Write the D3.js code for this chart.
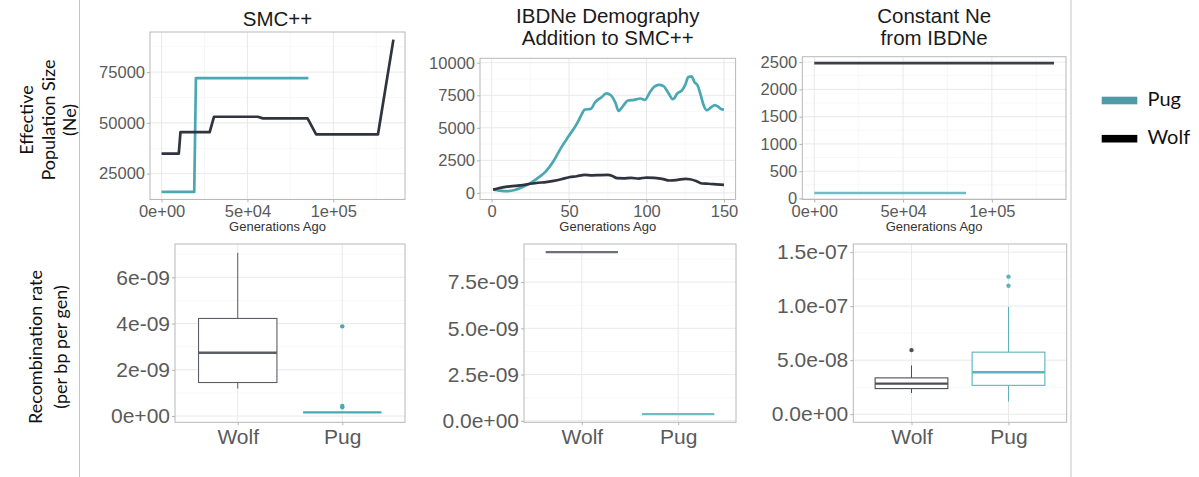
<!DOCTYPE html>
<html>
<head>
<meta charset="utf-8">
<script src="https://cdn.jsdelivr.net/npm/d3@7"></script>
<style>
  body { margin: 0; background: #fff; }
  svg { display: block; }
  text { font-family: "Liberation Sans", Arial, sans-serif; }
</style>
</head>
<body>
<svg id="chart"></svg>
<script>
// ---- data ----
const groups = ["Wolf", "Pug"];

// SMC++ Ne curves: [generations ago, Ne]
const smcWolf = [[0, 34800], [10000, 34800], [11000, 45400], [28000, 45400], [30500, 53000],
  [56000, 53000], [59000, 52200], [85000, 52200], [90000, 44300], [126000, 44300], [135000, 91000]];
const smcPug = [[0, 16000], [19000, 16000], [20000, 72000], [85500, 72000]];

// IBDNe curves: [generations ago, Ne]
const ibdPug = [[1, 250], [5, 180], [10, 130], [15, 220], [20, 450], [25, 750], [30, 1150], [35, 1650],
  [40, 2450], [45, 3500], [50, 4400], [55, 5300], [58, 6000], [60, 6400], [64, 6450], [67, 7000],
  [71, 7350], [74, 7650], [77, 7500], [80, 6900], [82, 6300], [85, 6700], [88, 7100], [92, 7150],
  [96, 7250], [99, 7150], [102, 7700], [105, 8150], [108, 8300], [111, 8200], [114, 7700], [117, 7200],
  [120, 7650], [123, 7900], [125, 8300], [127, 8900], [129, 8950], [131, 8500], [133, 8250], [135, 7500],
  [137, 6700], [139, 6350], [142, 6600], [144, 6750], [146, 6650], [148, 6450], [150, 6400]];
const ibdWolf = [[1, 250], [5, 380], [10, 480], [15, 540], [20, 600], [25, 700], [30, 780], [35, 820],
  [40, 920], [45, 1050], [50, 1200], [55, 1280], [60, 1380], [65, 1350], [70, 1370], [75, 1380],
  [78, 1300], [81, 1130], [85, 1120], [90, 1150], [95, 1100], [100, 1180], [105, 1150], [110, 1080],
  [115, 950], [120, 1000], [125, 1080], [128, 1050], [132, 920], [136, 720], [140, 700], [145, 660], [150, 620]];

// constant Ne from IBDNe
const constWolf = [[0, 2480], [135000, 2480]];
const constPug = [[0, 100], [85500, 100]];

// recombination rate boxplots: [lower whisker, q1, median, q3, upper whisker]
const recSmcWolf = [1.19e-9, 1.45e-9, 2.74e-9, 4.22e-9, 7.06e-9];
const recSmcPug = [0.16e-9, 0.16e-9, 0.16e-9, 0.16e-9, 0.16e-9];
const recSmcOut = { Wolf: [], Pug: [3.88e-9, 0.44e-9, 0.38e-9] };

const recIbdWolf = [9.12e-9, 9.12e-9, 9.12e-9, 9.12e-9, 9.12e-9];
const recIbdPug = [0.36e-9, 0.36e-9, 0.36e-9, 0.36e-9, 0.36e-9];
const recIbdOut = { Wolf: [], Pug: [] };

const recConstWolf = [1.96e-8, 2.37e-8, 2.83e-8, 3.36e-8, 4.51e-8];
const recConstPug = [1.17e-8, 2.67e-8, 3.88e-8, 5.74e-8, 9.94e-8];
const recConstOut = { Wolf: [5.93e-8], Pug: [1.189e-7, 1.273e-7] };

// ---- base settings ----
const width = 1199;
const height = 477;
const pugCol = "#4aa8b3";
const wolfCol = "#2f3440";

const svg = d3.select("#chart").attr("width", width).attr("height", height);

// R style scientific labels, e.g. 5e+04, 2.5e-09
function sci(v, digits) {
  const [m, e] = v.toExponential(digits).split("e");
  const n = Math.abs(+e);
  return m + "e" + (e[0] === "-" ? "-" : "+") + (n < 10 ? "0" + n : n);
}

// minor breaks halfway between the major ones (ggplot style)
function minorBreaks(ticks, domain) {
  const step = ticks[1] - ticks[0];
  const out = [];
  for (let v = ticks[0] - step / 2; v <= domain[1]; v += step) {
    if (v >= domain[0]) out.push(v);
  }
  return out;
}

function gridLines(g, x, y, xMinor, yMinor, xMajor, yMajor) {
  const [x0, x1] = x.range();
  const [y1, y0] = y.range();
  g.append("g").selectAll("line").data(xMinor).join("line")
    .attr("x1", d => x(d)).attr("x2", d => x(d)).attr("y1", y0).attr("y2", y1)
    .attr("stroke", "#f2f2f2").attr("stroke-width", 0.6);
  g.append("g").selectAll("line").data(yMinor).join("line")
    .attr("y1", d => y(d)).attr("y2", d => y(d)).attr("x1", x0).attr("x2", x1)
    .attr("stroke", "#f2f2f2").attr("stroke-width", 0.6);
  g.append("g").selectAll("line").data(xMajor).join("line")
    .attr("x1", d => x(d)).attr("x2", d => x(d)).attr("y1", y0).attr("y2", y1)
    .attr("stroke", "#e6e6e6").attr("stroke-width", 0.9);
  g.append("g").selectAll("line").data(yMajor).join("line")
    .attr("y1", d => y(d)).attr("y2", d => y(d)).attr("x1", x0).attr("x2", x1)
    .attr("stroke", "#e6e6e6").attr("stroke-width", 0.9);
}

function styleAxis(a, size) {
  a.select(".domain").remove();
  a.selectAll(".tick line").attr("stroke", "#b3b3b3");
  a.selectAll(".tick text").attr("fill", "#5a5a5a").style("font-size", size + "px")
    .style("font-family", '"Liberation Sans", Arial, sans-serif');
}

function border(g, left, right, top, bottom) {
  g.append("rect").attr("x", left).attr("y", top).attr("width", right - left).attr("height", bottom - top)
    .attr("fill", "none").attr("stroke", "#b8b8b8").attr("stroke-width", 1);
}

/**
 * line panel of the top row
 */
function linePanel(o) {
  const g = svg.append("g");
  const x = d3.scaleLinear().domain(o.xDomain).range([o.left, o.right]);
  const y = d3.scaleLinear().domain(o.yDomain).range([o.bottom, o.top]);
  gridLines(g, x, y, minorBreaks(o.xTicks, o.xDomain), minorBreaks(o.yTicks, o.yDomain), o.xTicks, o.yTicks);

  const line = d3.line().x(d => x(d[0])).y(d => y(d[1])).curve(o.curve || d3.curveLinear);
  o.series.forEach(s => {
    g.append("path").datum(s.data).attr("d", line)
      .attr("fill", "none").attr("stroke", s.color).attr("stroke-width", 2.7)
      .attr("stroke-linejoin", "round");
  });
  border(g, o.left, o.right, o.top, o.bottom);

  const ax = g.append("g").attr("transform", `translate(0,${o.bottom})`)
    .call(d3.axisBottom(x).tickValues(o.xTicks).tickFormat(o.xFmt).tickSize(3).tickPadding(2.5));
  const ay = g.append("g").attr("transform", `translate(${o.left},0)`)
    .call(d3.axisLeft(y).tickValues(o.yTicks).tickFormat(o.yFmt).tickSize(3).tickPadding(2));
  styleAxis(ax, 16.5);
  styleAxis(ay, 16.5);

  g.append("text").attr("x", (o.left + o.right) / 2).attr("y", 230.5)
    .attr("text-anchor", "middle").style("font-size", "13px").attr("fill", "#333")
    .text("Generations Ago");
  o.title.forEach((t, i) => {
    g.append("text").attr("x", (o.left + o.right) / 2).attr("y", o.titleY + i * 22)
      .attr("text-anchor", "middle").style("font-size", "20.5px").attr("fill", "#1a1a1a").text(t);
  });
}

/**
 * boxplot panel of the bottom row
 */
function boxPanel(o) {
  const g = svg.append("g");
  const unit = (o.right - o.left) / 2.2;   // ggplot discrete expansion of 0.6 each side
  const x = d3.scalePoint().domain(groups).range([o.left + 0.6 * unit, o.right - 0.6 * unit]);
  const y = d3.scaleLinear().domain(o.yDomain).range([o.bottom, o.top]);
  const frame = d3.scaleLinear().range([o.left, o.right]);
  gridLines(g, frame, y, [], minorBreaks(o.yTicks, o.yDomain), [], o.yTicks);
  g.append("g").selectAll("line").data(groups).join("line")
    .attr("x1", d => x(d)).attr("x2", d => x(d)).attr("y1", o.top).attr("y2", o.bottom)
    .attr("stroke", "#e6e6e6").attr("stroke-width", 0.9);

  const bw = 0.75 * unit;
  o.boxes.forEach(b => {
    const cx = x(b.name);
    const [lo, q1, med, q3, hi] = b.stats;
    g.append("line").attr("x1", cx).attr("x2", cx).attr("y1", y(hi)).attr("y2", y(q3))
      .attr("stroke", b.color).attr("stroke-width", 1);
    g.append("line").attr("x1", cx).attr("x2", cx).attr("y1", y(q1)).attr("y2", y(lo))
      .attr("stroke", b.color).attr("stroke-width", 1);
    g.append("rect").attr("x", cx - bw / 2).attr("y", y(q3)).attr("width", bw)
      .attr("height", Math.max(0, y(q1) - y(q3)))
      .attr("fill", "#fff").attr("stroke", b.color).attr("stroke-width", 1.1);
    g.append("line").attr("x1", cx - bw / 2).attr("x2", cx + bw / 2).attr("y1", y(med)).attr("y2", y(med))
      .attr("stroke", b.color).attr("stroke-width", 2.4);
    g.append("g").selectAll("circle").data(b.out).join("circle")
      .attr("cx", cx).attr("cy", d => y(d)).attr("r", 2.2).attr("fill", b.color);
  });

  border(g, o.left, o.right, o.top, o.bottom);
  const ax = g.append("g").attr("transform", `translate(0,${o.bottom})`)
    .call(d3.axisBottom(x).tickSize(3).tickPadding(4));
  const ay = g.append("g").attr("transform", `translate(${o.left},0)`)
    .call(d3.axisLeft(y).tickValues(o.yTicks).tickFormat(o.yFmt).tickSize(3).tickPadding(2));
  styleAxis(ax, 21);
  styleAxis(ay, 21);
}

const rowBottom = 199.5, boxTop = 244, boxBottom = 422.3;

linePanel({
  left: 150, right: 405, top: 32, bottom: rowBottom,
  xDomain: [-6750, 141750], yDomain: [12250, 94750],
  xTicks: [0, 50000, 100000], yTicks: [25000, 50000, 75000],
  xFmt: d => sci(d, 0), yFmt: d => d,
  series: [{ data: smcPug, color: pugCol }, { data: smcWolf, color: wolfCol }],
  title: ["SMC++"], titleY: 26
});

linePanel({
  left: 480, right: 735.6, top: 58.3, bottom: rowBottom,
  xDomain: [-7.5, 157.5], yDomain: [-508, 10340],
  xTicks: [0, 50, 100, 150], yTicks: [0, 2500, 5000, 7500, 10000],
  xFmt: d => d, yFmt: d => d,
  curve: d3.curveMonotoneX,
  series: [{ data: ibdPug, color: pugCol }, { data: ibdWolf, color: wolfCol }],
  title: ["IBDNe Demography", "Addition to SMC++"], titleY: 23
});

linePanel({
  left: 802.3, right: 1066, top: 56.7, bottom: rowBottom,
  xDomain: [-6750, 141750], yDomain: [-19, 2599],
  xTicks: [0, 50000, 100000], yTicks: [0, 500, 1000, 1500, 2000, 2500],
  xFmt: d => sci(d, 0), yFmt: d => d,
  series: [{ data: constPug, color: "#6fbcc4" }, { data: constWolf, color: "#3a3f4a" }],
  title: ["Constant Ne", "from IBDNe"], titleY: 23
});

boxPanel({
  left: 175, right: 405, top: boxTop, bottom: boxBottom,
  yDomain: [-0.27e-9, 7.44e-9], yTicks: [0, 2e-9, 4e-9, 6e-9], yFmt: d => sci(d, 0),
  boxes: [
    { name: "Wolf", stats: recSmcWolf, out: recSmcOut.Wolf, color: "#5b5e66" },
    { name: "Pug", stats: recSmcPug, out: recSmcOut.Pug, color: "#4aa8b3" }
  ]
});

boxPanel({
  left: 524, right: 736, top: boxTop, bottom: boxBottom,
  yDomain: [-0.08e-9, 9.56e-9], yTicks: [0, 2.5e-9, 5e-9, 7.5e-9], yFmt: d => sci(d, 1),
  boxes: [
    { name: "Wolf", stats: recIbdWolf, out: recIbdOut.Wolf, color: "#6c6f77" },
    { name: "Pug", stats: recIbdPug, out: recIbdOut.Pug, color: "#6fbcc4" }
  ]
});

boxPanel({
  left: 853.3, right: 1066.7, top: boxTop, bottom: boxBottom,
  yDomain: [-0.75e-8, 1.575e-7], yTicks: [0, 5e-8, 1e-7, 1.5e-7], yFmt: d => sci(d, 1),
  boxes: [
    { name: "Wolf", stats: recConstWolf, out: recConstOut.Wolf, color: "#4a4e57" },
    { name: "Pug", stats: recConstPug, out: recConstOut.Pug, color: "#5cb3bb" }
  ]
});

// dividers
[79.5, 1071].forEach(xv => {
  svg.append("line").attr("x1", xv).attr("x2", xv).attr("y1", 0).attr("y2", height)
    .attr("stroke", "#c4c4c4").attr("stroke-width", 1);
});

// row labels
function rowLabel(lines, xs, cy) {
  lines.forEach((t, i) => {
    svg.append("text").attr("transform", `translate(${xs[i]},${cy}) rotate(-90)`)
      .attr("text-anchor", "middle").attr("dy", "0.35em")
      .style("font-family", "Lato, 'Open Sans', sans-serif").style("font-size", "18px")
      .attr("fill", "#111").text(t);
  });
}
rowLabel(["Effective", "Population Size", "(Ne)"], [27, 49, 70], 120);
rowLabel(["Recombination rate", "(per bp per gen)"], [36, 61], 347);

// legend
const legend = svg.append("g");
[{ name: "Pug", color: "#4f9aa5", y: 100.5 }, { name: "Wolf", color: "#000", y: 138.7 }].forEach(d => {
  legend.append("rect").attr("x", 1101.7).attr("y", d.y - 3.8).attr("width", 35.6).attr("height", 7.6)
    .attr("fill", d.color);
  legend.append("text").attr("x", 1147.5).attr("y", d.y + 5.5)
    .style("font-family", "Lato, 'Open Sans', sans-serif").style("font-size", "20px")
    .attr("fill", "#111").text(d.name);
});
</script>
</body>
</html>
